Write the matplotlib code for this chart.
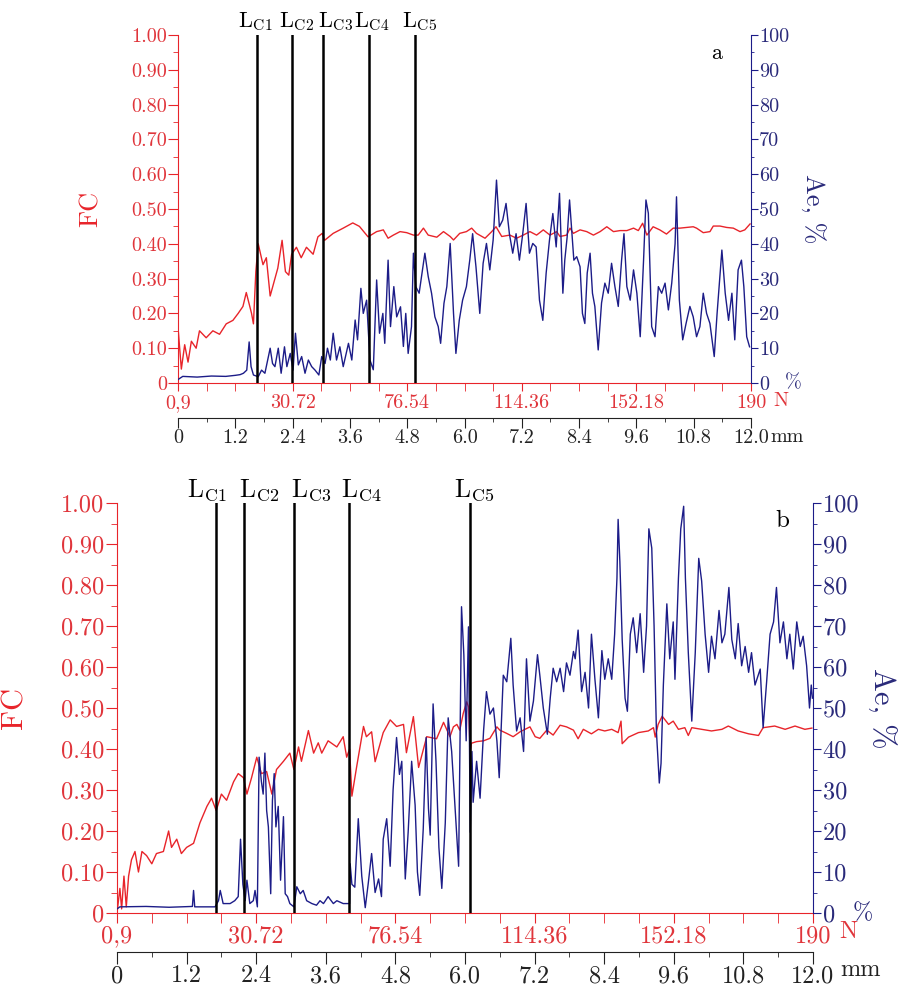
import numpy as np
import matplotlib
matplotlib.use("Agg")
import matplotlib.pyplot as plt
import matplotlib.transforms as mtransforms
from matplotlib.ticker import MultipleLocator

plt.rcParams['font.family'] = ['cmr10', 'DejaVu Serif']
plt.rcParams['mathtext.fontset'] = 'cm'
plt.rcParams['axes.formatter.use_mathtext'] = True

RED = '#e8242a'
RED_TXT = '#e0353b'
NAVY = '#1c1c88'
NAVY_TXT = '#2a2a7a'

# ---- axis labels (shared by both panels) ----
fc_ticks = np.round(np.arange(0, 1.001, 0.1), 2)
fc_labels = ['0'] + ['%.2f' % v for v in fc_ticks[1:]]
ae_ticks = np.arange(0, 101, 10)
ae_labels = [str(v) for v in ae_ticks]
n_ticks = [0, 2.4, 4.8, 7.2, 9.6, 12.0]
n_labels = ['0,9', '30.72', '76.54', '114.36', '152.18', '190']
mm_ticks = np.round(np.arange(0, 12.01, 1.2), 1)
mm_labels = ['0'] + ['%.1f' % v for v in mm_ticks[1:]]
lc_names = ['C1', 'C2', 'C3', 'C4', 'C5']

# ---- panel a : (mm, value) ----
fc_a = [(0, 0.16), (0.07, 0.04), (0.14, 0.11), (0.21, 0.06), (0.28, 0.12), (0.38, 0.10),
        (0.45, 0.15), (0.59, 0.13), (0.73, 0.15), (0.87, 0.14), (1.01, 0.17), (1.15, 0.18),
        (1.26, 0.20), (1.36, 0.22), (1.43, 0.26), (1.54, 0.20), (1.58, 0.17), (1.63, 0.32),
        (1.68, 0.40), (1.78, 0.34), (1.85, 0.36), (1.93, 0.25), (1.99, 0.28), (2.09, 0.33),
        (2.18, 0.41), (2.25, 0.32), (2.32, 0.31), (2.38, 0.37), (2.48, 0.39), (2.58, 0.36),
        (2.69, 0.39), (2.83, 0.37), (2.93, 0.42), (3.02, 0.43), (3.07, 0.41), (3.25, 0.43),
        (3.46, 0.445), (3.66, 0.46), (3.80, 0.45), (3.98, 0.42), (4.16, 0.435), (4.30, 0.44),
        (4.40, 0.416), (4.51, 0.425), (4.65, 0.435), (4.79, 0.432), (4.93, 0.425), (5.03, 0.425),
        (5.14, 0.445), (5.24, 0.425), (5.42, 0.419), (5.56, 0.435), (5.70, 0.421), (5.77, 0.411),
        (5.90, 0.43), (6.04, 0.435), (6.15, 0.445), (6.25, 0.43), (6.43, 0.416), (6.57, 0.435),
        (6.66, 0.449), (6.78, 0.421), (6.95, 0.425), (7.09, 0.416), (7.23, 0.425), (7.37, 0.435),
        (7.51, 0.425), (7.65, 0.44), (7.79, 0.425), (7.93, 0.435), (8.0, 0.421), (8.14, 0.425),
        (8.21, 0.445), (8.28, 0.43), (8.42, 0.44), (8.56, 0.435), (8.70, 0.425), (8.84, 0.435),
        (8.98, 0.449), (9.12, 0.435), (9.26, 0.438), (9.40, 0.438), (9.54, 0.445), (9.64, 0.438),
        (9.73, 0.459), (9.82, 0.425), (9.95, 0.449), (10.09, 0.44), (10.23, 0.428), (10.37, 0.445),
        (10.51, 0.445), (10.65, 0.447), (10.79, 0.449), (10.86, 0.445), (11.0, 0.432), (11.14, 0.435),
        (11.21, 0.451), (11.35, 0.451), (11.49, 0.447), (11.63, 0.445), (11.77, 0.435), (11.87, 0.44),
        (11.98, 0.457)]

ae_a = [(0, 1.0), (0.1, 1.9), (0.4, 1.7), (0.7, 2.0), (1.0, 1.9), (1.2, 2.2), (1.30, 2.4),
        (1.37, 2.8), (1.44, 3.7), (1.49, 11.8), (1.53, 4.7), (1.58, 2.3), (1.68, 1.8), (1.75, 3.7),
        (1.82, 2.8), (1.93, 10.0), (1.98, 5.6), (2.03, 4.7), (2.10, 10.0), (2.16, 2.8), (2.23, 10.4),
        (2.28, 4.7), (2.35, 8.5), (2.41, 3.7), (2.46, 14.3), (2.52, 5.2), (2.59, 7.6), (2.66, 2.8),
        (2.73, 6.6), (2.80, 4.7), (2.87, 3.7), (2.95, 2.3), (3.01, 7.6), (3.08, 5.6), (3.13, 10.0),
        (3.19, 6.6), (3.25, 14.3), (3.32, 6.6), (3.39, 10.4), (3.46, 4.7), (3.57, 11.4), (3.64, 6.6),
        (3.71, 18.1), (3.76, 12.4), (3.83, 27.2), (3.88, 20.0), (3.95, 23.8), (4.02, 6.6), (4.09, 3.8),
        (4.16, 29.6), (4.22, 14.3), (4.29, 20), (4.33, 11.4), (4.40, 35.3), (4.45, 16.2), (4.52, 27.7),
        (4.58, 19), (4.66, 21.9), (4.72, 10.5), (4.77, 20), (4.82, 8.5), (4.89, 16.2), (4.93, 37.3),
        (4.98, 27.7), (5.05, 25.8), (5.12, 32.5), (5.17, 37.3), (5.24, 30.6), (5.31, 25.8), (5.38, 19),
        (5.45, 16.2), (5.50, 11.4), (5.57, 22.9), (5.63, 27.7), (5.70, 40.1), (5.77, 20), (5.82, 8.5),
        (5.89, 18), (5.96, 23.8), (6.04, 27.7), (6.11, 35.3), (6.17, 42.9), (6.24, 33.4), (6.32, 20),
        (6.39, 34.4), (6.46, 40.1), (6.53, 32.5), (6.60, 41.1), (6.67, 58.3), (6.73, 44.9), (6.80, 46.8),
        (6.87, 51.6), (6.94, 42.9), (7.01, 37.3), (7.08, 42.9), (7.15, 35.3), (7.22, 42.9), (7.29, 51.6),
        (7.36, 37.3), (7.43, 40.1), (7.50, 39.1), (7.57, 23.8), (7.64, 18), (7.71, 31.6), (7.78, 41.1),
        (7.85, 48.7), (7.92, 39.1), (7.99, 54.5), (8.06, 25.8), (8.10, 35.3), (8.15, 42), (8.20, 52.6),
        (8.24, 44.9), (8.29, 35.3), (8.35, 36.3), (8.42, 33.4), (8.47, 20), (8.52, 17.1), (8.57, 31.6),
        (8.63, 37.3), (8.68, 25.8), (8.73, 22), (8.80, 9.5), (8.87, 23), (8.94, 28.7), (9.01, 25.8),
        (9.08, 34.4), (9.15, 27.7), (9.22, 22), (9.29, 35.3), (9.34, 42.9), (9.40, 27.7), (9.47, 23.8),
        (9.54, 32.5), (9.61, 25.8), (9.68, 13.3), (9.75, 35.3), (9.80, 52.6), (9.85, 48.8), (9.92, 16.2),
        (9.99, 13.3), (10.06, 27.7), (10.13, 25.8), (10.20, 28.7), (10.27, 21), (10.34, 28.7), (10.41, 40),
        (10.44, 53.5), (10.50, 23.8), (10.57, 12.4), (10.64, 17.1), (10.72, 22), (10.79, 19), (10.86, 13.3),
        (10.93, 16.2), (11.0, 25.8), (11.07, 20), (11.14, 17.1), (11.23, 7.6), (11.29, 20), (11.39, 38.2),
        (11.46, 25.8), (11.53, 18), (11.60, 25.8), (11.66, 12.4), (11.73, 32.5), (11.80, 35.3),
        (11.85, 27.7), (11.91, 13.3), (11.97, 10.4)]

lc_a = [1.66, 2.39, 3.04, 3.99, 4.97]
lc_a_text = [1.61, 2.49, 3.29, 4.06, 5.05]

# ---- panel b ----
fc_b = [(0.0, 0.0), (0.05, 0.06), (0.08, 0.01), (0.12, 0.09), (0.16, 0.015), (0.20, 0.09),
        (0.25, 0.13), (0.31, 0.15), (0.37, 0.10), (0.43, 0.15), (0.51, 0.14), (0.60, 0.12),
        (0.68, 0.145), (0.80, 0.15), (0.89, 0.20), (0.94, 0.16), (1.03, 0.18), (1.11, 0.145),
        (1.20, 0.16), (1.32, 0.17), (1.43, 0.22), (1.55, 0.26), (1.63, 0.28), (1.71, 0.25),
        (1.80, 0.29), (1.89, 0.275), (2.01, 0.32), (2.09, 0.34), (2.18, 0.33), (2.24, 0.29),
        (2.32, 0.33), (2.41, 0.38), (2.49, 0.34), (2.58, 0.345), (2.67, 0.29), (2.75, 0.35),
        (2.87, 0.37), (2.98, 0.39), (3.05, 0.35), (3.13, 0.405), (3.18, 0.37), (3.30, 0.445),
        (3.39, 0.39), (3.47, 0.415), (3.53, 0.39), (3.64, 0.42), (3.79, 0.405), (3.90, 0.43),
        (3.96, 0.38), (4.01, 0.40), (4.05, 0.285), (4.13, 0.355), (4.25, 0.455), (4.30, 0.43),
        (4.39, 0.442), (4.45, 0.369), (4.59, 0.44), (4.71, 0.471), (4.82, 0.455), (4.94, 0.46),
        (4.99, 0.391), (5.11, 0.479), (5.20, 0.355), (5.34, 0.43), (5.51, 0.425), (5.63, 0.465),
        (5.74, 0.43), (5.80, 0.454), (5.86, 0.46), (5.91, 0.446), (5.97, 0.487), (6.03, 0.515),
        (6.06, 0.503), (6.09, 0.39), (6.11, 0.414), (6.20, 0.418), (6.32, 0.42), (6.43, 0.426),
        (6.55, 0.454), (6.60, 0.446), (6.72, 0.438), (6.83, 0.43), (6.95, 0.442), (7.12, 0.454),
        (7.21, 0.43), (7.29, 0.426), (7.41, 0.446), (7.52, 0.434), (7.64, 0.458), (7.75, 0.454),
        (7.87, 0.446), (7.95, 0.425), (8.04, 0.448), (8.18, 0.437), (8.30, 0.448), (8.41, 0.444),
        (8.53, 0.448), (8.64, 0.44), (8.69, 0.468), (8.71, 0.413), (8.82, 0.429), (8.99, 0.44),
        (9.16, 0.444), (9.25, 0.452), (9.28, 0.429), (9.33, 0.46), (9.40, 0.48), (9.51, 0.46),
        (9.59, 0.468), (9.68, 0.448), (9.79, 0.452), (9.85, 0.433), (9.91, 0.452), (10.08, 0.448),
        (10.25, 0.444), (10.43, 0.448), (10.54, 0.456), (10.71, 0.444), (10.89, 0.437), (11.06, 0.433),
        (11.14, 0.452), (11.34, 0.456), (11.52, 0.448), (11.69, 0.456), (11.86, 0.448), (11.98, 0.451)]

ae_b = [(0.0, 1.0), (0.05, 1.5), (0.5, 1.6), (0.9, 1.4), (1.3, 1.6), (1.32, 5.5), (1.34, 1.5),
        (1.69, 1.5), (1.75, 3), (1.78, 5.5), (1.83, 2.3), (1.95, 2.3), (2.03, 3), (2.09, 4),
        (2.13, 18), (2.17, 7), (2.21, 3), (2.24, 8), (2.29, 2.3), (2.35, 3), (2.38, 5.5), (2.42, 1.5),
        (2.45, 38), (2.49, 32), (2.52, 29), (2.55, 39), (2.58, 25), (2.61, 21), (2.65, 4.7),
        (2.68, 27.5), (2.71, 34), (2.74, 21), (2.78, 26), (2.82, 8), (2.87, 23.5), (2.90, 4.7),
        (2.94, 4), (2.98, 2.3), (3.05, 1.5), (3.10, 6.4), (3.16, 4.7), (3.21, 5.5), (3.27, 3),
        (3.36, 2.3), (3.44, 1.9), (3.50, 3), (3.56, 2.3), (3.64, 4), (3.73, 2.3), (3.79, 3),
        (3.90, 2.3), (4.01, 2.3), (4.02, 12), (4.05, 7), (4.10, 6.3), (4.16, 23), (4.22, 9),
        (4.28, 1.3), (4.33, 7), (4.39, 14.5), (4.45, 5), (4.51, 8.3), (4.56, 4), (4.59, 18),
        (4.65, 23), (4.71, 11.4), (4.76, 30), (4.82, 42.8), (4.87, 33.8), (4.91, 37), (4.97, 8.3),
        (5.02, 19.7), (5.08, 37), (5.14, 26.3), (5.18, 10), (5.22, 4.3), (5.28, 20.5), (5.33, 42.8),
        (5.37, 25.5), (5.40, 19), (5.45, 51), (5.50, 37), (5.55, 16), (5.60, 6), (5.66, 22),
        (5.71, 47.6), (5.77, 39.4), (5.83, 25.5), (5.89, 11.4), (5.94, 74.7), (5.98, 63), (6.02, 42),
        (6.06, 69.8), (6.09, 19.7), (6.12, 39.4), (6.14, 27), (6.20, 37), (6.26, 28), (6.32, 44.4),
        (6.37, 54), (6.43, 48.5), (6.49, 50), (6.55, 42), (6.59, 33), (6.66, 58), (6.72, 56.4),
        (6.79, 67), (6.83, 55.6), (6.89, 44.4), (6.95, 47.6), (7.01, 39.4), (7.06, 62), (7.12, 46.8),
        (7.18, 51.7), (7.25, 63), (7.29, 58), (7.35, 50), (7.42, 43.6), (7.47, 52.5), (7.52, 59.7),
        (7.58, 56.4), (7.64, 59.7), (7.70, 54), (7.75, 61), (7.81, 58), (7.87, 63.8), (7.90, 62),
        (7.95, 69), (8.01, 54), (8.07, 58.7), (8.13, 50), (8.18, 68), (8.24, 57), (8.30, 47.6),
        (8.36, 64), (8.41, 57), (8.47, 62), (8.53, 57), (8.58, 68), (8.62, 81.7), (8.64, 96),
        (8.67, 85.7), (8.71, 66.7), (8.76, 52.4), (8.80, 49.2), (8.85, 68), (8.90, 72), (8.96, 63.5),
        (9.02, 73), (9.08, 58.7), (9.13, 70), (9.17, 93.7), (9.22, 89), (9.26, 70), (9.30, 44.4),
        (9.35, 31.7), (9.38, 36.5), (9.42, 55.6), (9.48, 75.4), (9.53, 62), (9.59, 71), (9.62, 57),
        (9.68, 81.7), (9.72, 93.7), (9.77, 99.2), (9.80, 81.7), (9.85, 63.5), (9.91, 46.8),
        (9.97, 63.5), (10.03, 86.5), (10.08, 81), (10.14, 68), (10.20, 58.7), (10.25, 67.5),
        (10.31, 62), (10.38, 73.8), (10.43, 65.9), (10.48, 68), (10.55, 79.4), (10.60, 66.7),
        (10.66, 62), (10.71, 70.6), (10.77, 60.3), (10.83, 65), (10.89, 58.7), (10.94, 63.5),
        (11.0, 55.6), (11.09, 59.5), (11.14, 45.2), (11.20, 56.3), (11.26, 68), (11.32, 71),
        (11.37, 79.4), (11.43, 65.9), (11.49, 71), (11.55, 62), (11.60, 68), (11.66, 59.5),
        (11.72, 71), (11.78, 65), (11.83, 67.5), (11.89, 60.3), (11.94, 50), (11.97, 55.6),
        (11.99, 52.4)]

lc_b = [1.71, 2.19, 3.05, 4.00, 6.09]
lc_b_text = [1.55, 2.45, 3.34, 4.21, 6.16]

W, H = 901, 1001
fig = plt.figure(figsize=(W / 100, H / 100), dpi=100)


def panel(box, fc, ae, lc, lc_text, tag, s):
    # box: left, top, right, bottom in pixels; s: dict of sizes/offsets
    l, t, r, b = box
    ax = fig.add_axes([l / W, 1 - b / H, (r - l) / W, (b - t) / H])
    ay = lambda py: (b - py) / (b - t)
    axx = lambda px: (px - l) / (r - l)

    x, y = zip(*fc)
    ax.plot(x, y, color=RED, lw=1.0)
    ax.set_xlim(0, 12)
    ax.set_ylim(0, 1)

    ax2 = ax.twinx()
    x, y = zip(*ae)
    ax2.plot(x, y, color=NAVY, lw=1.0)
    ax2.set_ylim(0, 100)
    for xv in lc:
        ax2.axvline(xv, color='k', lw=1.8, zorder=5)

    for sp in ['top', 'right']:
        ax.spines[sp].set_visible(False)
    for sp in ['top', 'left', 'bottom']:
        ax2.spines[sp].set_visible(False)
    ax.spines['left'].set_color(RED)
    ax.spines['bottom'].set_color(RED)
    ax2.spines['right'].set_color(NAVY)

    # left FC axis
    ax.set_yticks(fc_ticks, labels=fc_labels)
    ax.yaxis.set_minor_locator(MultipleLocator(0.05))
    ax.tick_params(axis='y', which='major', length=s['tl'], color=RED, labelcolor=RED_TXT,
                   labelsize=s['fs'], pad=1)
    ax.tick_params(axis='y', which='minor', length=s['tl'] / 2, color=RED)
    # bottom N axis
    ax.set_xticks(n_ticks, labels=n_labels)
    ax.xaxis.set_minor_locator(MultipleLocator(0.6))
    ax.tick_params(axis='x', which='both', length=s['xl'], color=RED, labelcolor=RED_TXT,
                   labelsize=s['fs'], pad=2)
    # right Ae axis
    ax2.set_yticks(ae_ticks, labels=ae_labels)
    ax2.yaxis.set_minor_locator(MultipleLocator(5))
    ax2.tick_params(axis='y', which='major', length=s['rl'], color=NAVY, labelcolor=NAVY_TXT,
                    labelsize=s['fs'], pad=1)
    ax2.tick_params(axis='y', which='minor', length=s['rl'] / 2, color=NAVY)

    # mm axis below, ticks hanging down
    sec = ax.secondary_xaxis(-s['mm_off'])
    sec.set_xticks(mm_ticks, labels=mm_labels)
    sec.xaxis.set_minor_locator(MultipleLocator(0.6))
    sec.tick_params(which='major', direction='out', length=s['ml'], color='#222222',
                    labelcolor='#222222', labelsize=s['fs'], pad=1)
    sec.tick_params(which='minor', direction='out', length=s['ml'] * 0.45, color='#222222')
    sec.spines['bottom'].set_color('#222222')

    ax.set_ylabel('FC', color=RED, fontsize=s['lab'])
    ax.yaxis.set_label_coords(axx(s['fc_x']), 0.5)
    ax2.set_ylabel('Ae, %', color=NAVY_TXT, fontsize=s['lab'], rotation=270, va='center')
    ax2.yaxis.set_label_coords(axx(s['ae_x']), 0.5)

    ax.text(axx(s['n_x']), ay(s['n_y']), 'N', transform=ax.transAxes, color=RED_TXT,
            fontsize=s['fs'], ha='center', va='center')
    ax.text(axx(s['mm_x']), ay(s['mm_y']), 'mm', transform=ax.transAxes, color='#222222',
            fontsize=s['fs'], ha='center', va='center')
    ax.text(axx(s['pc_x']), 0, '%', transform=ax.transAxes, color=NAVY_TXT,
            fontsize=s['fs'], ha='center', va='center')
    ax.text(axx(s['tag'][0]), ay(s['tag'][1]), tag, transform=ax.transAxes,
            fontsize=s['tagfs'], ha='center', va='center')

    trans = mtransforms.blended_transform_factory(ax.transData, ax.transAxes)
    for xv, name in zip(lc_text, lc_names):
        ax.text(xv, ay(s['lc_y']), r'L$_{\mathrm{%s}}$' % name, transform=trans,
                fontsize=s['lcfs'], ha='center', va='center')
    return ax


panel((178, 35, 751, 383), fc_a, ae_a, lc_a, lc_a_text, 'a',
      dict(fs=14.5, tl=7, xl=6, rl=5, ml=7, mm_off=35 / 348, lab=19, fc_x=103, ae_x=813,
           n_x=781, n_y=401, mm_x=787, mm_y=437, pc_x=793, tag=(717, 53), tagfs=16,
           lc_y=22, lcfs=16))

panel((117, 503, 813, 913), fc_b, ae_b, lc_b, lc_b_text, 'b',
      dict(fs=17.5, tl=8, xl=7, rl=6, ml=8.5, mm_off=39 / 410, lab=22, fc_x=28, ae_x=882,
           n_x=848, n_y=932, mm_x=861, mm_y=970, pc_x=863, tag=(782, 521), tagfs=18,
           lc_y=490, lcfs=18.5))

fig.savefig('out.png', dpi=100)
